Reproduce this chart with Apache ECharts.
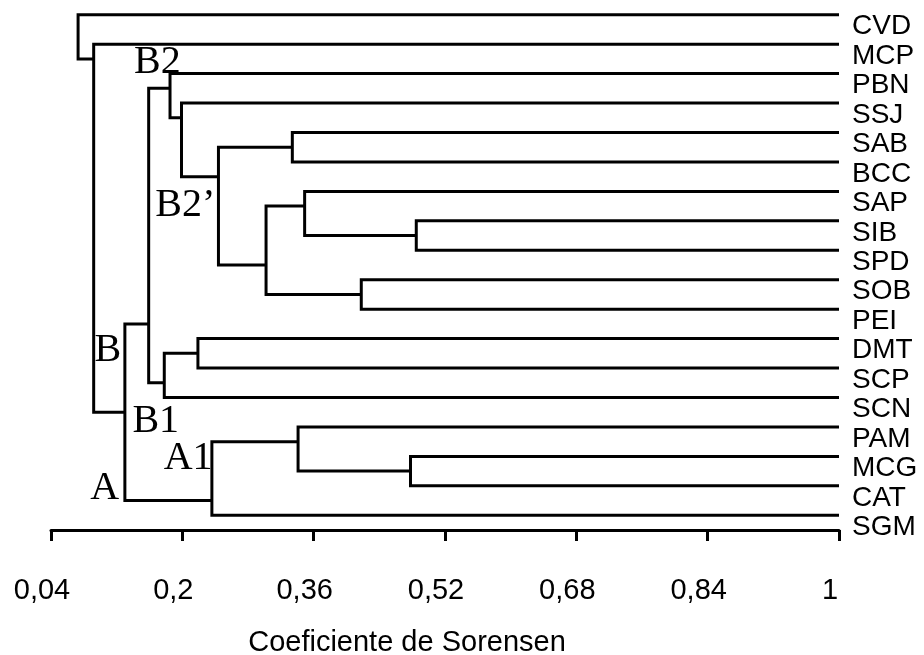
<!DOCTYPE html>
<html>
<head>
<meta charset="utf-8">
<script src="https://cdn.jsdelivr.net/npm/echarts@6/dist/echarts.min.js"></script>
<style>
  html, body { margin: 0; padding: 0; background: #fff; }
  #main { width: 924px; height: 655px; }
</style>
</head>
<body>
<div id="main"></div>
<script>
    // leaf order, top to bottom
    const leaves = ['CVD', 'MCP', 'PBN', 'SSJ', 'SAB', 'BCC', 'SAP', 'SIB', 'SPD',
        'SOB', 'PEI', 'DMT', 'SCP', 'SCN', 'PAM', 'MCG', 'CAT', 'SGM'];

    // merges: [upper child, lower child, Sorensen level]; nK = K-th merge
    const merges = [
        ['SIB', 'SPD', 0.485], // n0
        ['MCG', 'CAT', 0.478], // n1
        ['SOB', 'PEI', 0.418], // n2
        ['PAM', 'n1', 0.341],  // n3
        ['SAP', 'n0', 0.349],  // n4
        ['SAB', 'BCC', 0.334], // n5
        ['n4', 'n2', 0.302],   // n6
        ['n5', 'n6', 0.244],   // n7
        ['DMT', 'SCP', 0.219], // n8
        ['n3', 'SGM', 0.236],  // n9
        ['SSJ', 'n7', 0.199],  // n10
        ['PBN', 'n10', 0.185], // n11
        ['n8', 'SCN', 0.178],  // n12
        ['n11', 'n12', 0.159], // n13
        ['n13', 'n9', 0.130],  // n14
        ['MCP', 'n14', 0.092], // n15
        ['CVD', 'n15', 0.073]  // n16
    ];

    const tickLabels = ['0,04', '0,2', '0,36', '0,52', '0,68', '0,84', '1'];

    // group annotations
    const groupNames = ['B2', 'B2\u2019', 'B', 'B1', 'A1', 'A'];
    const groupX = [0.1695, 0.2036, 0.1092, 0.1676, 0.207, 0.1055];
    const groupY = [1.61, 6.49, 11.40, 13.82, 15.06, 16.08];

    var chartDom = document.getElementById('main');
    var myChart = echarts.init(chartDom);

    // build segments of the tree
    var nodes = {};
    leaves.forEach(function(name, i) {
        nodes[name] = { x: 1, y: i, first: i, last: i };
    });
    var segments = [];
    merges.forEach(function(m, k) {
        var a = nodes[m[0]], b = nodes[m[1]], lev = m[2];
        nodes['n' + k] = { x: lev, y: a.last + 0.5, first: a.first, last: b.last };
        segments.push({
            coords: [[a.x, a.y], [lev, a.y], [lev, b.y], [b.x, b.y]]
        });
    });

    var groupData = groupNames.map(function(n, i) {
        return { name: n, value: [groupX[i], groupY[i]] };
    });

    var option = {
        animation: false,
        backgroundColor: '#fff',
        grid: {
            left: 51,
            top: 0,
            width: 788,
            height: 530,
            outerBoundsMode: 'none'
        },
        xAxis: {
            type: 'value',
            position: 'bottom',
            min: 0.04,
            max: 1,
            interval: 0.16,
            name: 'Coeficiente de Sorensen',
            nameLocation: 'middle',
            nameGap: 98,
            nameTextStyle: {
                color: '#000',
                fontFamily: 'Liberation Sans',
                fontSize: 29,
                padding: [0, 76, 0, 0]
            },
            axisLine: { onZero: false, lineStyle: { color: '#000', width: 3 } },
            axisTick: { length: 11, lineStyle: { color: '#000', width: 3 } },
            axisLabel: {
                color: '#000',
                fontFamily: 'Liberation Sans',
                fontSize: 29,
                margin: 46,
                padding: [0, 18, 0, 0],
                formatter: function(v) {
                    return tickLabels[Math.round((v - 0.04) / 0.16)];
                }
            },
            splitLine: { show: false }
        },
        yAxis: [{
            type: 'value',
            inverse: true,
            min: -0.5,
            max: 17.5,
            show: false
        }, {
            type: 'category',
            position: 'right',
            inverse: true,
            data: leaves,
            axisLine: { show: false },
            axisTick: { show: false },
            axisLabel: {
                interval: 0,
                color: '#000',
                fontFamily: 'Liberation Sans',
                fontSize: 28,
                margin: 13,
                verticalAlign: 'top',
                padding: [-2, 0, 0, 0]
            },
            splitLine: { show: false }
        }],
        series: [{
            type: 'lines',
            coordinateSystem: 'cartesian2d',
            polyline: true,
            silent: true,
            lineStyle: { color: '#000', width: 3, opacity: 1, join: 'miter' },
            data: segments
        }, {
            type: 'scatter',
            symbolSize: 0,
            silent: true,
            itemStyle: { opacity: 1 },
            label: {
                show: true,
                position: 'inside',
                formatter: '{b}',
                color: '#000',
                opacity: 1,
                fontFamily: 'Liberation Serif',
                fontSize: 40
            },
            data: groupData
        }]
    };

    myChart.setOption(option);
</script>
</body>
</html>
